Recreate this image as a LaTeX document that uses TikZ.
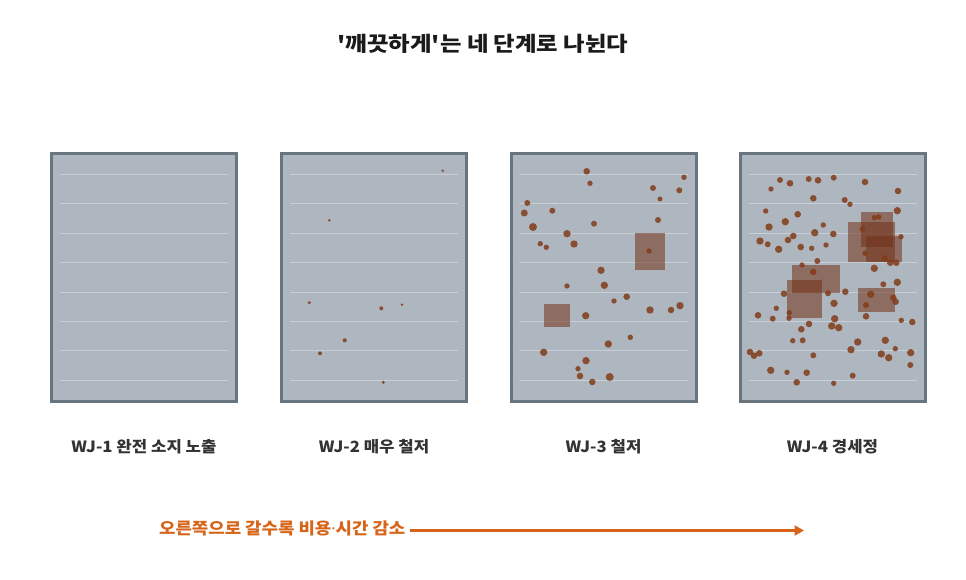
\documentclass[tikz,border=0pt]{standalone}
\usepackage{fontspec}
\setmainfont{Noto Sans CJK KR}
\newfontfamily\titlefont{Noto Sans CJK KR}[FakeStretch=1.14, Ligatures=TeXOff]
\newfontfamily\labelfont{Noto Sans CJK KR}[FakeStretch=1.08]
\newfontfamily\notefont{Noto Sans CJK KR}[FakeStretch=1.1]
\newfontfamily\dotfont{Noto Sans}
\usetikzlibrary{arrows.meta}
\definecolor{panelfill}{RGB}{174,183,192}
\definecolor{paneledge}{RGB}{104,116,126}
\definecolor{panelline}{RGB}{200,207,214}
\definecolor{rust}{RGB}{130,60,25}
\definecolor{rustsq}{RGB}{115,48,22}
\definecolor{labelgray}{RGB}{51,51,51}
\definecolor{titleblack}{RGB}{26,26,26}
\definecolor{accent}{RGB}{214,100,25}
\tikzset{
  panel/.style={draw=paneledge, line width=3pt, fill=panelfill, minimum width=185pt, minimum height=248pt, inner sep=0pt, outer sep=0pt},
  stripe/.style={draw=panelline, line width=0.9pt},
  dot/.style={fill=rust, fill opacity=0.85},
  patch/.style={fill=rustsq, fill opacity=0.55},
  steplabel/.style={font=\labelfont\bfseries\fontsize{15.5}{18}\selectfont, text=labelgray},
  titlelabel/.style={font=\titlefont\bfseries\fontsize{20.5}{24}\selectfont, text=titleblack},
  notelabel/.style={font=\notefont\bfseries\fontsize{16.2}{19}\selectfont, text=accent},
  trend/.style={draw=accent, line width=2.8pt, -{Triangle[length=9.5pt,width=10pt]}}
}
\newcommand{\stripes}[1]{%
  \foreach \yy in {174.3,203.7,233.2,262.6,292.0,321.5,350.9,380.3}{
    \draw[stripe] ([xshift=8.5pt]#1.west |- 0,\yy) -- ([xshift=-8.5pt]#1.east |- 0,\yy);
  }}
\begin{document}
\begin{tikzpicture}[x=1pt,y=-1pt]
\useasboundingbox[fill=white] (0,0) rectangle (966,580);

\node[titlelabel] (title) at (483,44) {'깨끗하게'는 네 단계로 나뉜다};

\node[panel] (p1) at (144,277.5) {};
\node[panel] (p2) at (374,277.5) {};
\node[panel] (p3) at (603.5,277.5) {};
\node[panel] (p4) at (832.5,277.5) {};
\stripes{p1}\stripes{p2}\stripes{p3}\stripes{p4}

% panel 2 dots
\foreach \x/\y/\r in {442.7/170.7/1.4, 329.3/220.3/1.4, 309.3/302.7/1.7, 381.3/308.3/2.0, 402/304.7/1.4, 344.7/340.3/2.1, 320/353.3/2.0, 383.3/382.3/1.7}
  \fill[dot] (\x,\y) circle (\r);

% panel 3 patches and dots
\fill[patch] (635.3,233.3) rectangle (664.7,270.3);
\fill[patch] (544,304.3) rectangle (569.7,326.7);
\foreach \x/\y/\r in {586.7/171.3/3.3, 590/183.3/2.7, 653/188/3.0, 684/177.3/2.7, 679.3/190.3/3.0, 660/199/2.5, 527.3/203/3.0, 524.3/213/3.5, 552.3/210.7/3.0, 594/223.7/3.0, 658/220/3.0, 533/227/4.0, 567/233.7/3.7, 574/244/3.7, 540.3/243.7/2.7, 546.3/247.3/2.7, 649/251/2.7, 601/270.3/3.7, 567/286/2.7, 604.3/285.3/3.7, 614/301/2.7, 626.7/296.7/3.3, 650/310/3.7, 671/310/3.3, 680/305.7/3.7, 585.7/315.7/3.7, 543.7/352.3/3.7, 608.3/344/3.7, 630.3/337.3/2.7, 586/360.7/3.7, 578/368.7/2.7, 580/376/3.3, 592.3/382/3.3, 609.7/377/4.0}
  \fill[dot] (\x,\y) circle (\r);

% panel 4 patches and dots
\fill[patch] (860.7,211.7) rectangle (893.3,246.7);
\fill[patch] (848,222.3) rectangle (895.3,261.7);
\fill[patch] (866,236) rectangle (902,261.7);
\fill[patch] (792.3,265) rectangle (840,292.7);
\fill[patch] (786.7,280.3) rectangle (822,317.7);
\fill[patch] (858,288) rectangle (895.3,312);
\foreach \x/\y/\r in {780/180/3.0, 790/183.3/3.3, 771/189/2.7, 808.7/179/3.0, 818/180.3/3.3, 833.7/177.7/3.0, 865/182/3.3, 898/191/3.3, 813.3/198.3/3.3, 844.7/200/3.0, 850/204.3/2.7, 765.7/211/2.7, 797.7/214.3/3.3, 785.3/221.7/3.7, 769/227/3.7, 823.3/225/2.7, 814.7/232.7/3.7, 833.3/234/3.3, 793.3/236/3.3, 788/240/3.3, 760/241/3.7, 767.7/244.3/3.0, 778.7/249.3/3.7, 800.7/247/3.3, 811.7/248.3/2.7, 826/245/2.7, 897.3/210.7/3.7, 874.3/217.7/2.7, 878.7/217/2.7, 862.7/229/3.0, 901/236.7/2.7, 865/253.3/2.7, 884.7/258.3/3.3, 890.3/262.7/3.3, 896.3/262.7/3.3, 874.3/268.3/3.7, 817.3/261/3.0, 802/265/2.7, 813.3/272/3.3, 897.3/282.3/3.7, 883.3/284.3/3.0, 845.3/291.7/3.3, 828/293.3/3.0, 784/293.7/3.3, 870.7/294.3/3.7, 893.3/297.7/3.3, 895.7/301.7/3.3, 834/303.3/3.7, 866/305/3.0, 776.3/308.3/2.7, 789.3/312.7/2.7, 789/318.3/2.7, 758/315.3/3.3, 772.7/318.7/3.0, 834.7/318.7/3.7, 866/316.3/3.3, 901.3/320.3/2.7, 912.3/322/3.3, 809/324/3.3, 831.7/326/3.7, 838.7/327.7/3.7, 801.3/329.3/3.3, 792.7/340.7/2.7, 802.7/340.3/3.0, 857.7/342/3.7, 885.3/340.3/3.7, 851/349.7/3.7, 895.3/348.7/2.7, 750/352/3.3, 754/355.7/3.3, 759.3/353.3/3.3, 813.3/355.3/3.0, 881.3/354/3.7, 888.7/357.7/3.7, 910.7/352.7/3.7, 910.3/365/3.0, 770.7/370.3/3.7, 787/372.3/2.7, 806.7/372.7/3.3, 852.7/375.7/3.0, 796.7/382.3/3.3, 833.7/383.3/2.7}
  \fill[dot] (\x,\y) circle (\r);

% stage labels
\node[steplabel] (l1) at (144,447) {WJ-1 완전 소지 노출};
\node[steplabel] (l2) at (374,447) {WJ-2 매우 철저};
\node[steplabel] (l3) at (603.5,447) {WJ-3 철저};
\node[steplabel] (l4) at (832.5,447) {WJ-4 경세정};

% trend note and arrow
\node[notelabel, anchor=west, inner sep=0pt] (note) at (159,528) {오른쪽으로 갈수록 비용{\dotfont\bfseries ·}시간 감소};
\coordinate (tip) at (804,530.5);
\draw[trend] ([xshift=4pt]note.east |- tip) -- (tip);
\end{tikzpicture}
\end{document}
